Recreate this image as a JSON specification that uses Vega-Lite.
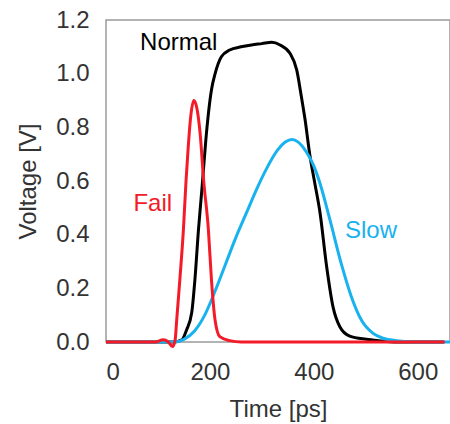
{
  "$schema": "https://vega.github.io/schema/vega-lite/v6.json",
  "autosize": {"type": "none"},
  "padding": {"left": 106, "top": 20, "right": 0, "bottom": 82},
  "width": 344,
  "height": 322,
  "background": "white",
  "config": {
    "view": {"stroke": "#9a9a9a", "strokeWidth": 1.5},
    "font": "Liberation Sans",
    "axis": {"grid": false, "ticks": false, "domain": false, "labelColor": "#333333", "titleColor": "#333333", "labelFontSize": 24, "titleFontSize": 24, "titleFontWeight": "normal", "labelFont": "Liberation Sans", "titleFont": "Liberation Sans"}
  },
  "datasets": {
    "curves": [
      {"series": "Normal", "t": 0, "v": 0},
      {"series": "Normal", "t": 130, "v": 0},
      {"series": "Normal", "t": 146, "v": 0.008},
      {"series": "Normal", "t": 155, "v": 0.045},
      {"series": "Normal", "t": 165, "v": 0.11},
      {"series": "Normal", "t": 171, "v": 0.23},
      {"series": "Normal", "t": 178, "v": 0.42},
      {"series": "Normal", "t": 185, "v": 0.58},
      {"series": "Normal", "t": 192, "v": 0.75},
      {"series": "Normal", "t": 197, "v": 0.85},
      {"series": "Normal", "t": 203, "v": 0.94},
      {"series": "Normal", "t": 210, "v": 1.0},
      {"series": "Normal", "t": 222, "v": 1.063},
      {"series": "Normal", "t": 238, "v": 1.088},
      {"series": "Normal", "t": 260, "v": 1.1},
      {"series": "Normal", "t": 280, "v": 1.107},
      {"series": "Normal", "t": 300, "v": 1.112},
      {"series": "Normal", "t": 319, "v": 1.117},
      {"series": "Normal", "t": 335, "v": 1.107},
      {"series": "Normal", "t": 354, "v": 1.076},
      {"series": "Normal", "t": 367, "v": 1.014},
      {"series": "Normal", "t": 376, "v": 0.914},
      {"series": "Normal", "t": 383, "v": 0.83},
      {"series": "Normal", "t": 392, "v": 0.7},
      {"series": "Normal", "t": 402, "v": 0.59},
      {"series": "Normal", "t": 412, "v": 0.48},
      {"series": "Normal", "t": 424, "v": 0.29},
      {"series": "Normal", "t": 437, "v": 0.13},
      {"series": "Normal", "t": 450, "v": 0.057},
      {"series": "Normal", "t": 469, "v": 0.022},
      {"series": "Normal", "t": 501, "v": 0.01},
      {"series": "Normal", "t": 524, "v": 0.005},
      {"series": "Normal", "t": 560, "v": 0},
      {"series": "Normal", "t": 650, "v": 0},
      {"series": "Slow", "t": 0, "v": 0},
      {"series": "Slow", "t": 130, "v": 0},
      {"series": "Slow", "t": 150, "v": 0.01},
      {"series": "Slow", "t": 170, "v": 0.04},
      {"series": "Slow", "t": 190, "v": 0.1},
      {"series": "Slow", "t": 210, "v": 0.19},
      {"series": "Slow", "t": 230, "v": 0.29},
      {"series": "Slow", "t": 250, "v": 0.39},
      {"series": "Slow", "t": 270, "v": 0.48},
      {"series": "Slow", "t": 290, "v": 0.57},
      {"series": "Slow", "t": 310, "v": 0.65},
      {"series": "Slow", "t": 330, "v": 0.715},
      {"series": "Slow", "t": 345, "v": 0.745},
      {"series": "Slow", "t": 358, "v": 0.755},
      {"series": "Slow", "t": 370, "v": 0.745},
      {"series": "Slow", "t": 385, "v": 0.71},
      {"series": "Slow", "t": 399, "v": 0.66},
      {"series": "Slow", "t": 412, "v": 0.59},
      {"series": "Slow", "t": 431, "v": 0.455},
      {"series": "Slow", "t": 453, "v": 0.29},
      {"series": "Slow", "t": 472, "v": 0.17},
      {"series": "Slow", "t": 492, "v": 0.08},
      {"series": "Slow", "t": 514, "v": 0.032},
      {"series": "Slow", "t": 533, "v": 0.014},
      {"series": "Slow", "t": 559, "v": 0.005},
      {"series": "Slow", "t": 600, "v": 0},
      {"series": "Slow", "t": 662, "v": 0},
      {"series": "Fail", "t": 0, "v": 0},
      {"series": "Fail", "t": 95, "v": 0},
      {"series": "Fail", "t": 110, "v": 0.008},
      {"series": "Fail", "t": 120, "v": 0.0},
      {"series": "Fail", "t": 128, "v": -0.017},
      {"series": "Fail", "t": 133, "v": 0.007},
      {"series": "Fail", "t": 136, "v": 0.08},
      {"series": "Fail", "t": 142, "v": 0.23},
      {"series": "Fail", "t": 149, "v": 0.42},
      {"series": "Fail", "t": 154, "v": 0.6},
      {"series": "Fail", "t": 158, "v": 0.72},
      {"series": "Fail", "t": 163, "v": 0.84},
      {"series": "Fail", "t": 169, "v": 0.9},
      {"series": "Fail", "t": 175, "v": 0.87},
      {"series": "Fail", "t": 181, "v": 0.78},
      {"series": "Fail", "t": 188, "v": 0.6},
      {"series": "Fail", "t": 197, "v": 0.42},
      {"series": "Fail", "t": 203, "v": 0.23},
      {"series": "Fail", "t": 210, "v": 0.08},
      {"series": "Fail", "t": 219, "v": 0.02},
      {"series": "Fail", "t": 238, "v": 0.005},
      {"series": "Fail", "t": 260, "v": 0},
      {"series": "Fail", "t": 652, "v": 0}
    ],
    "labels": [
      {"series": "Normal", "t": 140, "v": 1.113},
      {"series": "Fail", "t": 90, "v": 0.514},
      {"series": "Slow", "t": 510, "v": 0.414}
    ]
  },
  "encoding": {
    "x": {"field": "t", "type": "quantitative", "scale": {"domain": [0, 662], "nice": false}, "axis": {"values": [0, 200, 400, 600], "labelPadding": 18, "titlePadding": 13, "title": "Time [ps]"}},
    "y": {"field": "v", "type": "quantitative", "scale": {"domain": [0, 1.2], "nice": false}, "axis": {"values": [0, 0.2, 0.4, 0.6, 0.8, 1.0, 1.2], "format": ".1f", "labelPadding": 17, "titlePadding": 15, "title": "Voltage [V]"}},
    "color": {"field": "series", "type": "nominal", "scale": {"domain": ["Normal", "Slow", "Fail"], "range": ["#000000", "#18b2ef", "#f41a28"]}, "legend": null}
  },
  "layer": [
    {"data": {"name": "curves"}, "transform": [{"filter": "datum.series === 'Normal'"}], "mark": {"type": "line", "strokeWidth": 3, "interpolate": "monotone"}},
    {"data": {"name": "curves"}, "transform": [{"filter": "datum.series === 'Slow'"}], "mark": {"type": "line", "strokeWidth": 3, "interpolate": "monotone"}},
    {"data": {"name": "curves"}, "transform": [{"filter": "datum.series === 'Fail'"}], "mark": {"type": "line", "strokeWidth": 3, "interpolate": "monotone"}},
    {"data": {"name": "labels"}, "mark": {"type": "text", "fontSize": 24, "align": "center", "baseline": "middle", "font": "Liberation Sans"}, "encoding": {"text": {"field": "series"}}}
  ]
}
